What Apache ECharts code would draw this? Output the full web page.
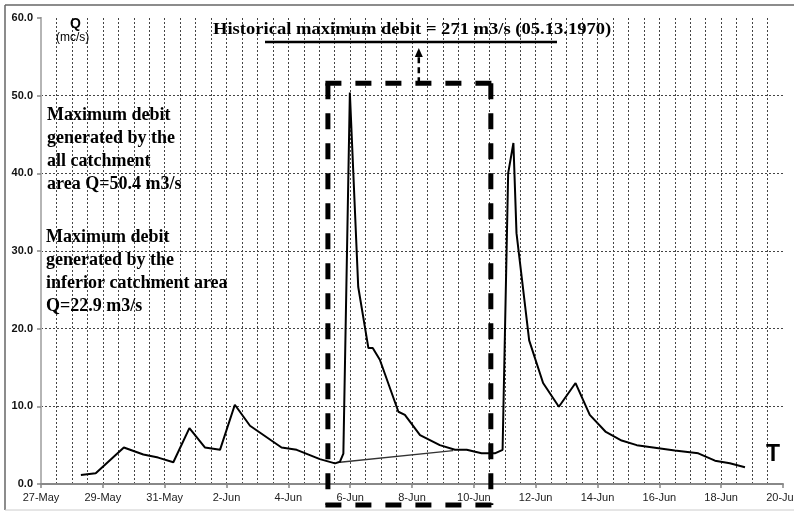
<!DOCTYPE html>
<html>
<head>
<meta charset="utf-8">
<script src="https://cdn.jsdelivr.net/npm/echarts@6/dist/echarts.min.js"></script>
<style>
html,body{margin:0;padding:0;background:#fff;}
#c{width:794px;height:511px;}
</style>
</head>
<body>
<div id="c"></div>
<script>
// Days after 27-May 00:00 and discharge Q (m3/s)
const times = [1.29,1.77,2.68,3.31,3.79,4.28,4.80,5.30,5.79,6.27,6.76,7.78,8.27,9.02,9.51,9.67,9.78,9.99,10.26,10.59,10.73,10.96,11.56,11.77,12.26,12.90,13.39,13.77,14.25,14.68,14.93,15.11,15.28,15.38,15.79,16.24,16.75,17.29,17.75,18.27,18.78,19.27,19.80,20.50,21.26,21.80,22.28,22.77];
const flow  = [1.16,1.38,4.7,3.8,3.4,2.8,7.2,4.7,4.4,10.2,7.5,4.7,4.4,3.2,2.66,2.87,3.9,50.4,25.4,17.5,17.5,16.0,9.3,8.9,6.3,5.0,4.4,4.4,3.95,3.95,4.4,40.0,43.9,32.3,18.5,13.0,9.95,13.0,8.9,6.7,5.6,5.0,4.7,4.3,3.95,3.0,2.66,2.15];
// Base-flow separation line
const baseTimes = [9.67, 13.33];
const baseFlow  = [2.8, 4.3];
// x tick labels (every 2 days from 27-May)
const tickLabels = ['27-May','29-May','31-May','2-Jun','4-Jun','6-Jun','8-Jun','10-Jun','12-Jun','14-Jun','16-Jun','18-Jun','20-Jun'];
// Flood window (days) and its top (Q); arrow position (days)
const boxDays = [9.28, 14.55];
const boxTopQ = 51.6;
const arrowDay = 12.22;

const chart = echarts.init(document.getElementById('c'), null, {renderer:'canvas'});
const grid = {left:41, right:11, top:18, bottom:27, outerBoundsMode:'none', containLabel:false};
const gridLine = {color:'#444', type:[2,2], width:1};

chart.setOption({
  animation:false,
  backgroundColor:'#fff',
  grid: grid,
  xAxis: [{
    type:'value', min:0, max:24, interval:2,
    axisLine:{show:true, onZero:false, lineStyle:{color:'#888', width:2}},
    axisTick:{show:true, length:4, lineStyle:{color:'#888', width:1.5}},
    axisLabel:{formatter:v=>tickLabels[Math.round(v/2)], color:'#222', fontFamily:'Liberation Sans, Arial', fontSize:11, margin:8},
    splitLine:{show:false}
  },{
    // half-day grid
    type:'value', min:0, max:24, interval:0.5, position:'bottom',
    axisLine:{show:false}, axisTick:{show:false}, axisLabel:{show:false},
    splitLine:{show:true, showMinLine:false, showMaxLine:false, lineStyle:gridLine}
  }],
  yAxis: [{
    type:'value', min:0, max:60, interval:10,
    axisLine:{show:true, lineStyle:{color:'#888', width:2}},
    axisTick:{show:true, length:4, lineStyle:{color:'#888', width:1.5}},
    axisLabel:{formatter:v=>v.toFixed(1), color:'#111', fontWeight:'bold', fontFamily:'Liberation Sans, Arial', fontSize:11, margin:8},
    splitLine:{show:true, showMinLine:false, showMaxLine:false, lineStyle:gridLine}
  },{
    type:'value', min:0, max:60, position:'right',
    axisLine:{show:true, lineStyle:{color:'#c4c4c4', width:1.5}},
    axisTick:{show:false}, axisLabel:{show:false}, splitLine:{show:false}
  }],
  series: [{
    type:'line', data: times.map((t,i)=>[t, flow[i]]),
    showSymbol:false, lineStyle:{color:'#000', width:2}, z:5
  },{
    type:'line', data: baseTimes.map((t,i)=>[t, baseFlow[i]]),
    showSymbol:false, lineStyle:{color:'#333', width:1.3}, z:4
  }]
});

const pL = chart.convertToPixel({xAxisIndex:0}, boxDays[0]);
const pR = chart.convertToPixel({xAxisIndex:0}, boxDays[1]);
const pT = chart.convertToPixel({yAxisIndex:0}, boxTopQ);
const p0 = chart.convertToPixel({yAxisIndex:0}, 0);
const pB = p0 + 21;
const arrowX = chart.convertToPixel({xAxisIndex:0}, arrowDay);

const serifT = 'bold 16px "Liberation Serif", "Times New Roman", serif';
const serifL = 'bold 18px "Liberation Serif", "Times New Roman", serif';
const txt = (x,y,s,font) => ({type:'text', left:x, top:y, z:20, style:{text:s, font:font, fill:'#000'}});
const boxStyle = {stroke:'#000', lineWidth:5, lineDash:[16,14]};
const seg = (x1,y1,x2,y2) => ({type:'line', z:10, shape:{x1,y1,x2,y2}, style:boxStyle});

chart.setOption({
  graphic: [
    // outer frame
    {type:'line', shape:{x1:5,y1:5,x2:794,y2:5}, style:{stroke:'#666', lineWidth:1.5}},
    {type:'line', shape:{x1:5,y1:5,x2:5,y2:510}, style:{stroke:'#666', lineWidth:1.5}},
    {type:'line', shape:{x1:5,y1:510,x2:794,y2:510}, style:{stroke:'#ccc', lineWidth:1}},
    // flood window box
    seg(pL-2.5, pT, pR+2.5, pT),
    seg(pL, pT, pL, pB),
    seg(pR, pT, pR, pB),
    seg(pL-2.5, pB, pR+2.5, pB),
    // dashed arrow
    {type:'line', z:10, shape:{x1:arrowX, y1:pT, x2:arrowX, y2:56}, style:{stroke:'#000', lineWidth:2.5, lineDash:[6,4]}},
    {type:'polygon', z:10, shape:{points:[[arrowX,48],[arrowX-4,57],[arrowX+4,57]]}, style:{fill:'#000'}},
    // title underline
    {type:'line', z:10, shape:{x1:265, y1:42, x2:557, y2:42}, style:{stroke:'#000', lineWidth:2.5}},
    {type:'text', x:213, y:22, scaleX:1.16, z:20, style:{text:'Historical maximum debit = 271 m3/s (05.13.1970)', font:serifT, fill:'#000'}},
    // axis names
    {type:'text', left:70, top:17, z:20, style:{text:'Q', font:'bold 14px "Liberation Sans", Arial', fill:'#000'}},
    {type:'text', left:56, top:32, z:20, style:{text:'(mc/s)', font:'12px "Liberation Sans", Arial', fill:'#000'}},
    {type:'text', left:766, top:443, z:20, style:{text:'T', font:'bold 23px "Liberation Sans", Arial', fill:'#000'}},
    // left annotations
    txt(47, 106, 'Maximum debit', serifL),
    txt(47, 129, 'generated by the', serifL),
    txt(47, 152, 'all catchment', serifL),
    txt(47, 175, 'area Q=50.4 m3/s', serifL),
    txt(46, 228, 'Maximum debit', serifL),
    txt(46, 251, 'generated by the', serifL),
    txt(46, 274, 'inferior catchment area', serifL),
    txt(46, 297, 'Q=22.9 m3/s', serifL)
  ]
});
</script>
</body>
</html>
